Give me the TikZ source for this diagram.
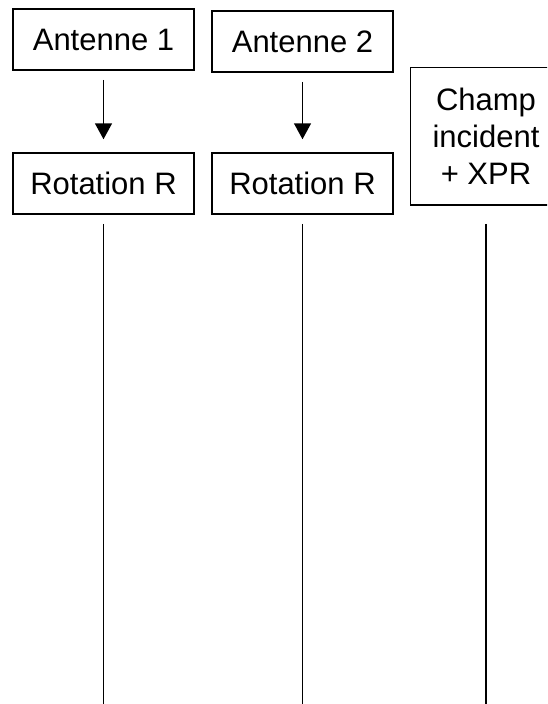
\documentclass[tikz,border=0pt]{standalone}
\usepackage{fontspec}
\setmainfont{Liberation Sans}
\usetikzlibrary{arrows.meta}

\tikzset{
	block/.style={draw, line width=1.5pt, inner sep=0pt, minimum width=181pt, minimum height=61pt, font=\fontsize{31}{37}\selectfont},
	link/.style={line width=1.6pt},
}

\begin{document}
\begin{tikzpicture}[x=1pt,y=-1pt]
\useasboundingbox (0,0) rectangle (547,704);
\clip (0,0) rectangle (547,704);

\foreach \i/\x/\y in {1/103.5/39.5, 2/302.5/41.5} {
	\node[block] (ant\i) at (\x,\y) {Antenne \i};
	\node[block] (rot\i) at (\x,183.5) {Rotation R};
	\coordinate (bot\i) at (\x,704);
	\draw[link][-{Triangle[width=17pt,length=16pt]}, shorten <=9pt, shorten >=13pt] (ant\i) -- (rot\i);
	\draw[link][shorten <=9pt] (rot\i) -- (bot\i);
}

% champ box runs off the right edge
\node[block, draw=none, minimum width=150pt, minimum height=136pt, align=center] (champ) at (486,136) {Champ\\incident\\+ XPR};
\draw[line width=1.5pt] ([xshift=20pt]champ.north east) -- (champ.north west) -- (champ.south west) -- ([xshift=20pt]champ.south east);
\coordinate (bot3) at (486,704);
\draw[link][shorten <=19pt] (champ) -- (bot3);
\end{tikzpicture}
\end{document}
